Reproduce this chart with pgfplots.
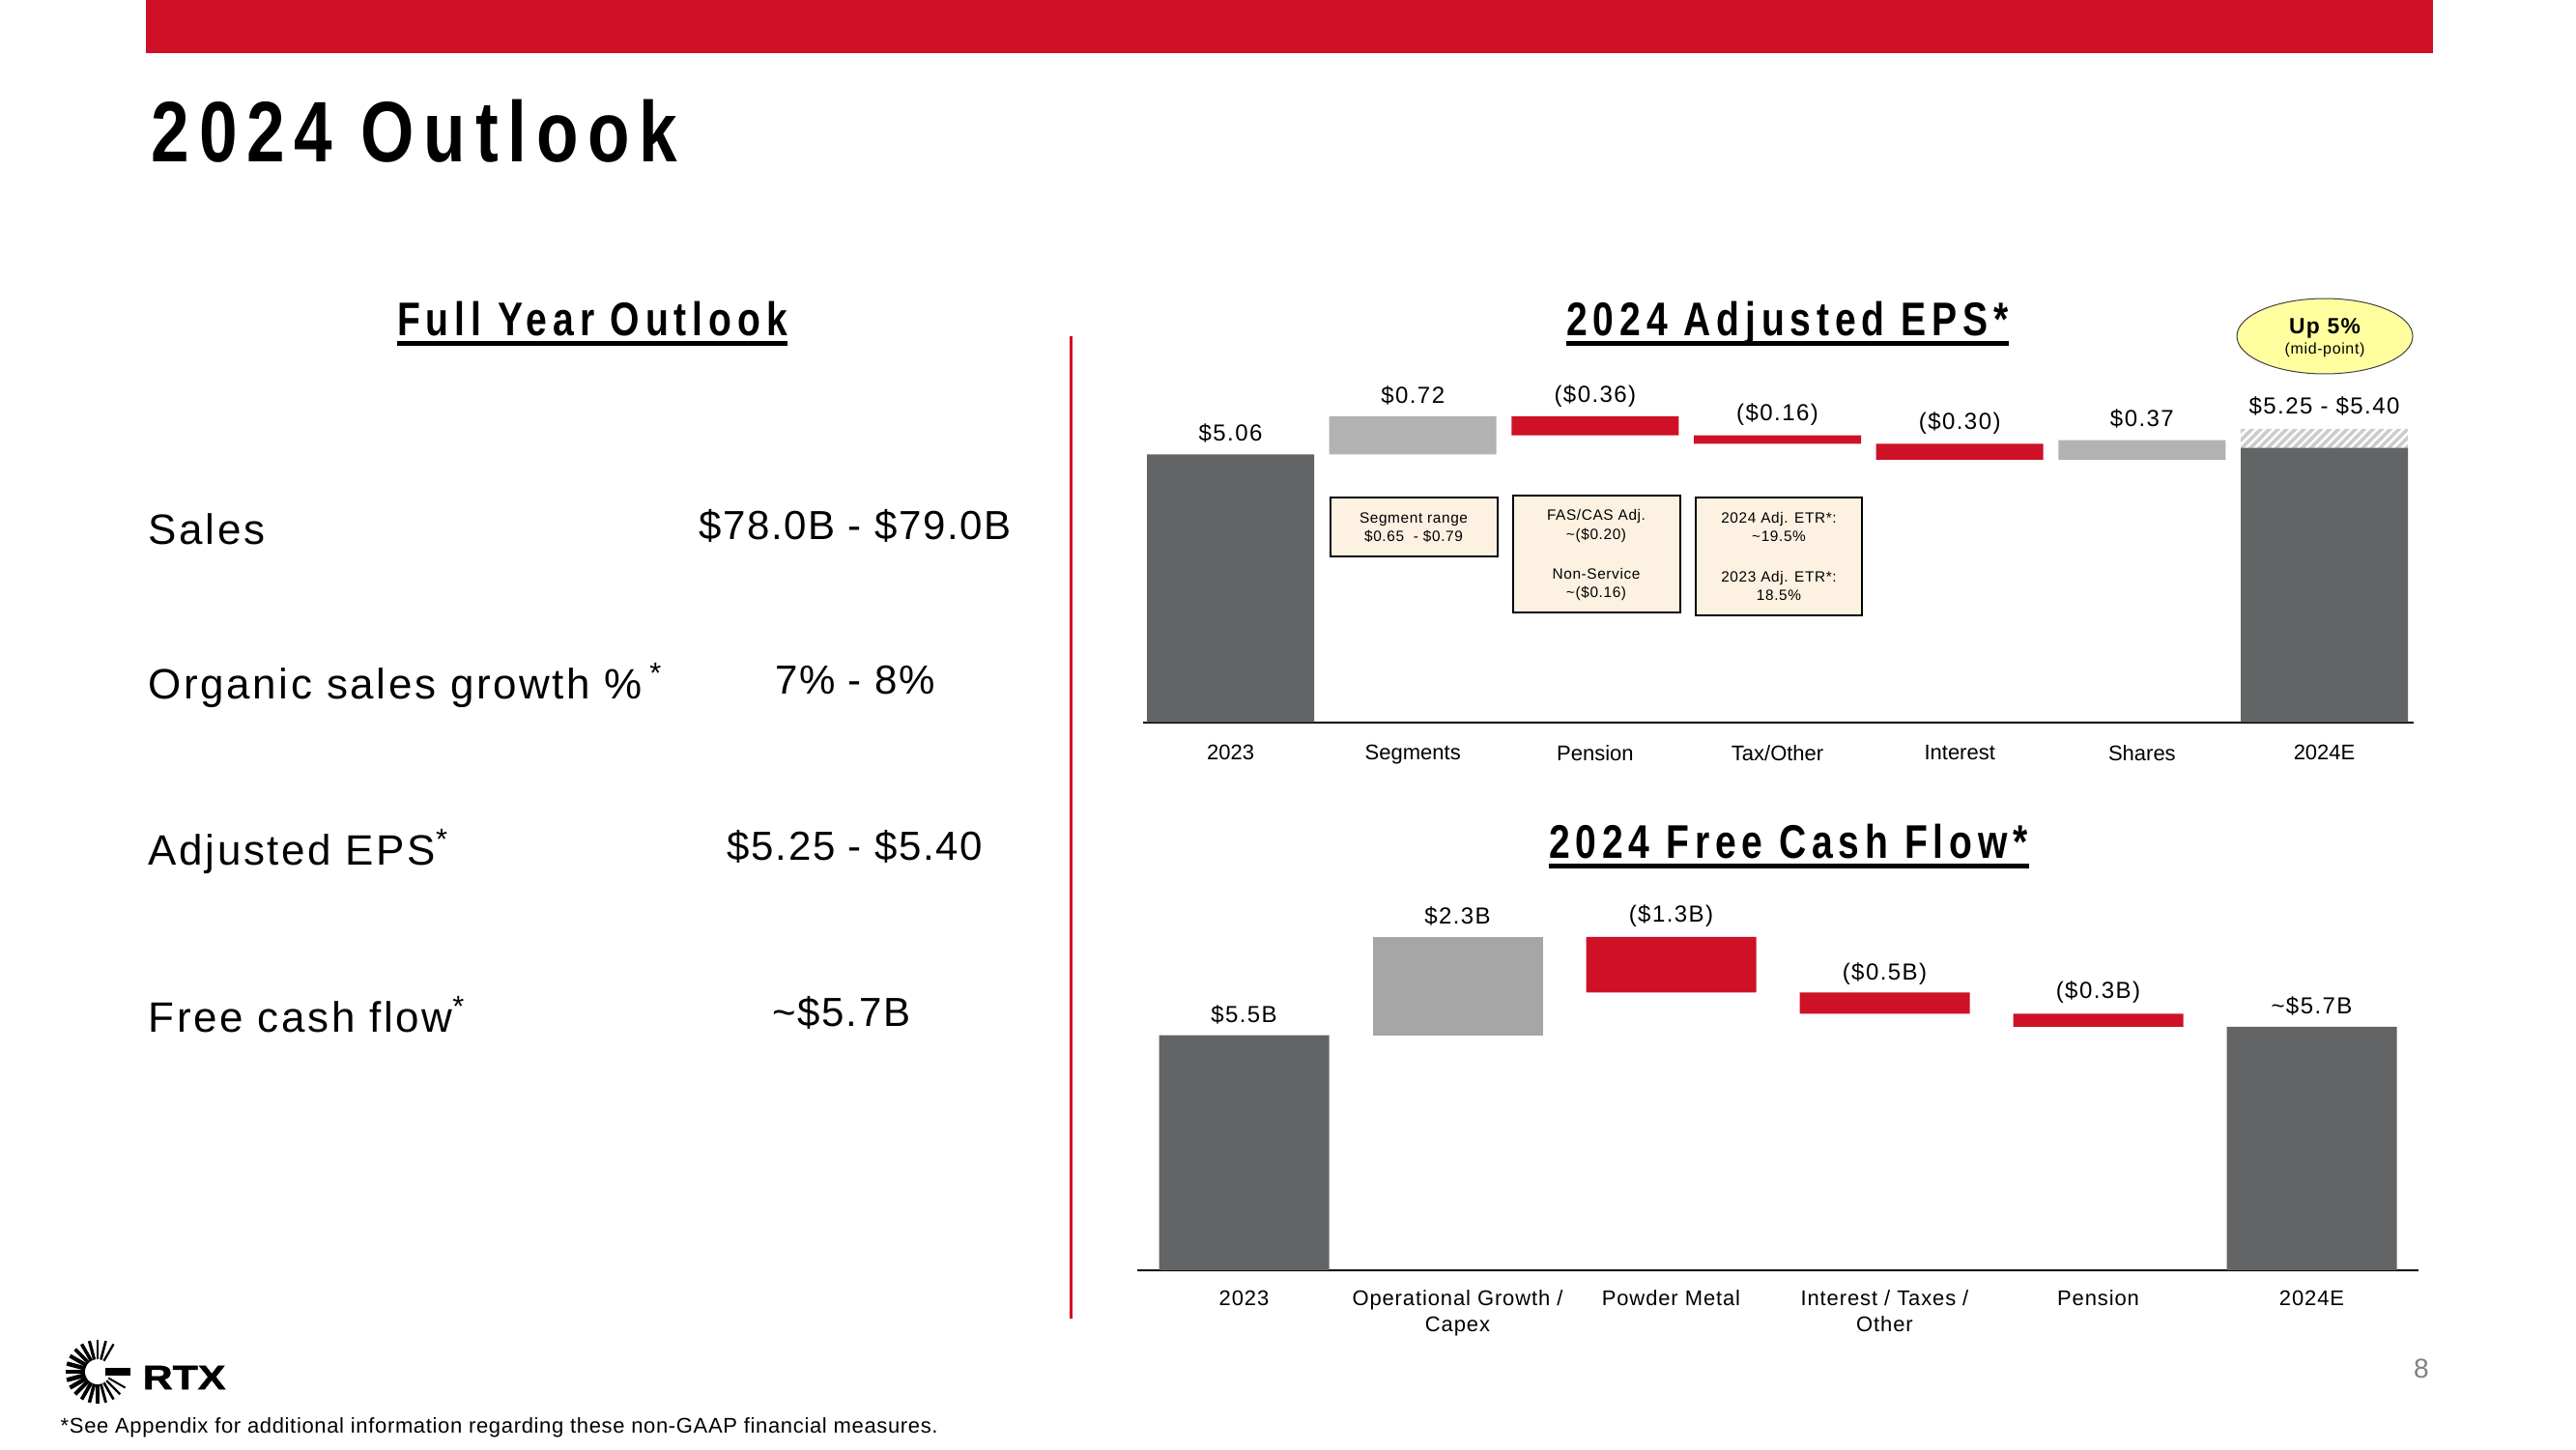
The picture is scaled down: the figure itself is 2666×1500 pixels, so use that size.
\documentclass[border=0pt]{standalone}
\usepackage{fontspec}
\setmainfont{Liberation Sans}
\usepackage{pgfplots}
\pgfplotsset{compat=1.18}
\usetikzlibrary{patterns.meta}
\newfontfamily\titlefont{Liberation Sans}[FakeStretch=0.8,LetterSpace=12]
\newfontfamily\bigtitlefont{Liberation Sans}[FakeStretch=0.8,LetterSpace=11]
\newfontfamily\spfont{Liberation Sans}[LetterSpace=6]
\newfontfamily\spsmall{Liberation Sans}[LetterSpace=4]
\newfontfamily\footfont{Liberation Sans}[LetterSpace=3]
\newfontfamily\logofont{Liberation Sans}[FakeStretch=1.22,FakeBold=1.5]
\definecolor{rtxred}{RGB}{206,17,38}
\definecolor{darkbar}{RGB}{99,100,102}
\definecolor{lightbarA}{RGB}{178,178,178}
\definecolor{lightbarB}{RGB}{166,166,166}
\definecolor{boxfill}{RGB}{253,241,225}
\definecolor{ellfill}{RGB}{255,255,160}
\newcommand{\vfont}{\spfont\fontsize{6.83}{8}\selectfont}
\newcommand{\notefont}{\spsmall\fontsize{4.38}{5.3}\selectfont}
\newcommand{\rowfont}{\spfont\fontsize{12.5}{14}\selectfont}
\newcommand{\valfont}{\spsmall\fontsize{11.95}{14}\selectfont}
\newcommand{\ultitle}[3]{%
  \node[anchor=base, inner sep=0pt, font=\titlefont\bfseries\fontsize{13.9}{16}\selectfont] (t) at (#1,#2) {#3};
  \draw[line width=0.5mm] ([yshift=-0.85mm]t.base west) -- ([yshift=-0.85mm]t.base east);}
\begin{document}
\begin{tikzpicture}
\begin{scope}[x=0.1mm,y=-0.1mm]
\fill[white] (0,0) rectangle (2666,1500);
\path[use as bounding box] (0,0) rectangle (2666,1500);
\fill[rtxred] (151,0) rectangle (2518,55);
\node[anchor=base west, inner sep=0pt, font=\bigtitlefont\bfseries\fontsize{25.3}{30}\selectfont] at (156,167) {2024 Outlook};
% section titles
\ultitle{613}{347}{Full Year Outlook}
\ultitle{1850}{347}{2024 Adjusted EPS*}
\ultitle{1851}{888}{2024 Free Cash Flow*}
% divider
\fill[rtxred] (1107,348) rectangle (1110,1365);
% left rows
\node[anchor=base west, inner sep=0pt, font=\rowfont] at (153,563) {Sales};
\node[anchor=base west, inner sep=0pt, font=\rowfont] at (153,723) {Organic sales growth \%\,\textsuperscript{*}};
\node[anchor=base west, inner sep=0pt, font=\rowfont] at (153,895) {Adjusted EPS\textsuperscript{*}};
\node[anchor=base west, inner sep=0pt, font=\rowfont] at (153,1068) {Free cash flow\textsuperscript{*}};
\node[anchor=base, inner sep=0pt, font=\valfont] at (885,558) {\$78.0B - \$79.0B};
\node[anchor=base, inner sep=0pt, font=\valfont] at (885,718) {7\% - 8\%};
\node[anchor=base, inner sep=0pt, font=\valfont] at (885,890) {\$5.25 - \$5.40};
\node[anchor=base, inner sep=0pt, font=\valfont] at (871,1062) {\textasciitilde\$5.7B};
% note boxes
\draw[fill=boxfill, line width=0.2mm] (1377,515) rectangle (1550,576);
\draw[fill=boxfill, line width=0.2mm] (1566,513) rectangle (1739,634);
\draw[fill=boxfill, line width=0.2mm] (1755,515) rectangle (1927,637);
\node[anchor=base, inner sep=0pt, font=\notefont] at (1463,541) {Segment range};
\node[anchor=base, inner sep=0pt, font=\notefont] at (1463,560) {\$0.65 \ - \$0.79};
\node[anchor=base, inner sep=0pt, font=\notefont] at (1652,538) {FAS/CAS Adj.};
\node[anchor=base, inner sep=0pt, font=\notefont] at (1652,558) {\textasciitilde(\$0.20)};
\node[anchor=base, inner sep=0pt, font=\notefont] at (1652,599) {Non-Service};
\node[anchor=base, inner sep=0pt, font=\notefont] at (1652,618) {\textasciitilde(\$0.16)};
\node[anchor=base, inner sep=0pt, font=\notefont] at (1841,541) {2024 Adj. ETR*:};
\node[anchor=base, inner sep=0pt, font=\notefont] at (1841,560) {\textasciitilde19.5\%};
\node[anchor=base, inner sep=0pt, font=\notefont] at (1841,602) {2023 Adj. ETR*:};
\node[anchor=base, inner sep=0pt, font=\notefont] at (1841,621) {18.5\%};
% ellipse
\draw[fill=ellfill, draw=black!75, line width=0.1mm] (2406,348) ellipse [x radius=91, y radius=39];
\node[anchor=base, inner sep=0pt, font=\spfont\bfseries\fontsize{6.5}{7}\selectfont] at (2406,345) {Up 5\%};
\node[anchor=base, inner sep=0pt, font=\spsmall\fontsize{4.55}{5}\selectfont] at (2406,366) {(mid-point)};
% logo
\begin{scope}[shift={(101,1420)}]
\foreach \a/\w in {30/2,45/2.3,60/2.6,75/2.9,90/3.2,105/3.5,120/3.8,135/4.1,150/4.4,165/4.6,180/4.6,195/4.4,210/4.1,225/3.8,240/3.5,255/3.2,270/2.9,285/2.6,300/2.3}
  \draw[line width=\w*0.1mm] (\a:13) -- (\a:33);
\fill[black] (8,-4) rectangle (34,4);
\end{scope}
\node[anchor=base west, inner sep=0pt, font=\logofont\bfseries\fontsize{10}{12}\selectfont] at (147,1438) {RTX};
% page number and footer
\node[anchor=base, inner sep=0pt, text=black!50, font=\fontsize{8}{9}\selectfont] at (2506,1426) {8};
\node[anchor=base west, inner sep=0pt, font=\footfont\fontsize{6.26}{7}\selectfont] at (62,1483) {*See Appendix for additional information regarding these non-GAAP financial measures.};
\end{scope}

% EPS waterfall
\begin{axis}[at={(118.3mm,-74.77mm)}, anchor=south west, scale only axis,
  width=131.5mm, height=32.89mm,
  xmin=-0.48, xmax=6.49, ymin=0, ymax=6, enlargelimits=false, clip=false,
  ybar stacked, bar width=17.3mm,
  axis x line=bottom, axis y line=none, axis line style={-, line width=0.6pt, black},
  xtick={0,1,2,3,4,5,6}, xticklabels={2023,Segments,Pension,Tax/Other,Interest,Shares,2024E},
  major tick length=0pt, ytick=\empty,
  xticklabel style={font=\fontsize{6.26}{7.7}\selectfont, anchor=north, inner sep=0pt, yshift=-2.3mm}]
\addplot[fill=none, draw=none] coordinates {(0,0) (1,5.06) (2,5.42) (3,5.26) (4,4.96) (5,4.96) (6,0)};
\addplot[fill=darkbar, draw=none] coordinates {(0,5.06) (1,0) (2,0) (3,0) (4,0) (5,0) (6,5.18)};
\addplot[fill=lightbarA, draw=none] coordinates {(0,0) (1,0.72) (2,0) (3,0) (4,0) (5,0.37) (6,0)};
\addplot[fill=rtxred, draw=none] coordinates {(0,0) (1,0) (2,0.36) (3,0.16) (4,0.30) (5,0) (6,0)};
\addplot[fill=gray!40, draw=none, postaction={pattern={Lines[angle=45,distance=1.8pt,line width=0.7pt]}, pattern color=white}] coordinates {(0,0) (1,0) (2,0) (3,0) (4,0) (5,0) (6,0.36)};
\node[anchor=base, font=\vfont] at (axis cs:0,5.31) {\$5.06};
\node[anchor=base, font=\vfont] at (axis cs:1,6.02) {\$0.72};
\node[anchor=base, font=\vfont] at (axis cs:2,6.04) {(\$0.36)};
\node[anchor=base, font=\vfont] at (axis cs:3,5.69) {(\$0.16)};
\node[anchor=base, font=\vfont] at (axis cs:4,5.53) {(\$0.30)};
\node[anchor=base, font=\vfont] at (axis cs:5,5.58) {\$0.37};
\node[anchor=base, font=\vfont] at (axis cs:6,5.83) {\$5.25 - \$5.40};
\end{axis}

% FCF waterfall
\begin{axis}[at={(117.7mm,-131.5mm)}, anchor=south west, scale only axis,
  width=132.6mm, height=39.83mm,
  xmin=-0.5, xmax=5.5, ymin=0, ymax=9, enlargelimits=false, clip=false,
  ybar stacked, bar width=17.6mm,
  axis x line=bottom, axis y line=none, axis line style={-, line width=0.6pt, black},
  xtick={0,1,2,3,4,5}, xticklabels={2023,{Operational Growth /\\Capex},Powder Metal,{Interest / Taxes /\\Other},Pension,2024E},
  major tick length=0pt, ytick=\empty,
  xticklabel style={font=\spsmall\fontsize{6.26}{7.68}\selectfont, align=center, anchor=north, inner sep=0pt, yshift=-2.0mm}]
\addplot[fill=none, draw=none] coordinates {(0,0) (1,5.5) (2,6.5) (3,6.0) (4,5.7) (5,0)};
\addplot[fill=darkbar, draw=none] coordinates {(0,5.5) (1,0) (2,0) (3,0) (4,0) (5,5.7)};
\addplot[fill=lightbarB, draw=none] coordinates {(0,0) (1,2.3) (2,0) (3,0) (4,0) (5,0)};
\addplot[fill=rtxred, draw=none] coordinates {(0,0) (1,0) (2,1.3) (3,0.5) (4,0.3) (5,0)};
\node[anchor=base, font=\vfont] at (axis cs:0,5.80) {\$5.5B};
\node[anchor=base, font=\vfont] at (axis cs:1,8.11) {\$2.3B};
\node[anchor=base, font=\vfont] at (axis cs:2,8.14) {(\$1.3B)};
\node[anchor=base, font=\vfont] at (axis cs:3,6.80) {(\$0.5B)};
\node[anchor=base, font=\vfont] at (axis cs:4,6.35) {(\$0.3B)};
\node[anchor=base, font=\vfont] at (axis cs:5,6.01) {\textasciitilde\$5.7B};
\end{axis}
\end{tikzpicture}
\end{document}
